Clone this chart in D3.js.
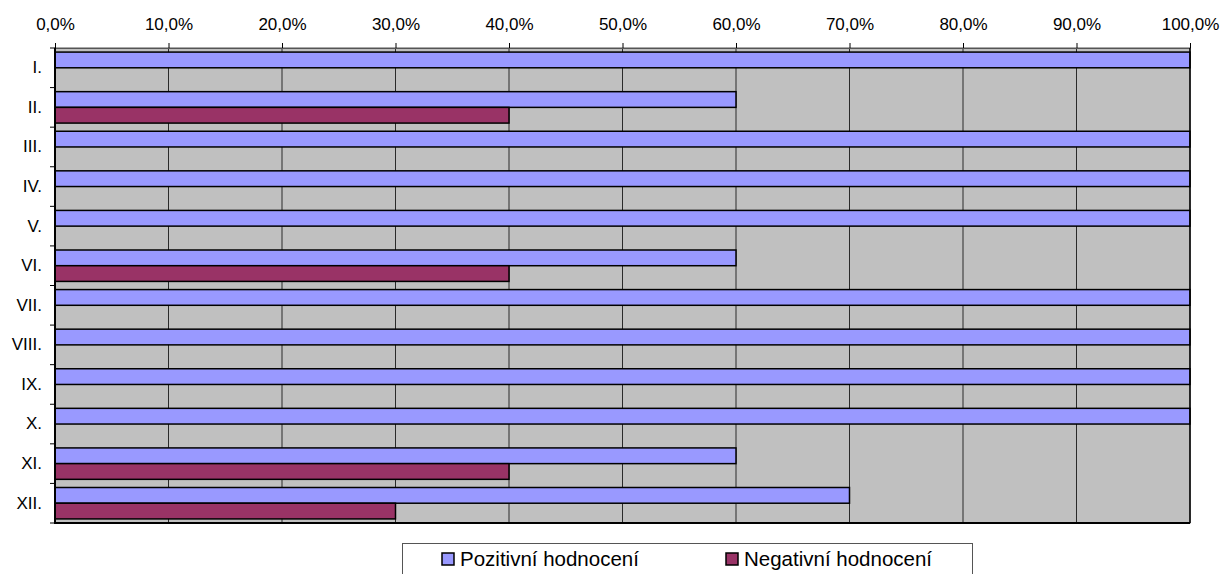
<!DOCTYPE html>
<html>
<head>
<meta charset="utf-8">
<script src="https://cdn.jsdelivr.net/npm/d3@7.9.0/dist/d3.min.js"></script>
<style>
  body { margin: 0; background: #fff; }
  svg { display: block; font-family: Arial, "Liberation Sans", sans-serif; }
</style>
</head>
<body>
<svg id="chart" width="1220" height="574"></svg>
<script>
// data
const categories = ['I.', 'II.', 'III.', 'IV.', 'V.', 'VI.', 'VII.', 'VIII.', 'IX.', 'X.', 'XI.', 'XII.'];
const positive = [1, 0.6, 1, 1, 1, 0.6, 1, 1, 1, 1, 0.6, 0.7];
const negative = [0, 0.4, 0, 0, 0, 0.4, 0, 0, 0, 0, 0.4, 0.3];
const seriesNames = ['Pozitivní hodnocení', 'Negativní hodnocení'];
const seriesColors = ['#9999ff', '#993366'];
const xTicks = [0, 0.1, 0.2, 0.3, 0.4, 0.5, 0.6, 0.7, 0.8, 0.9, 1];

const svg = d3.select('#chart');
const plotL = 55, plotR = 1190, plotT = 48, plotB = 523;
const fontFam = 'Arial, "Liberation Sans", sans-serif';

const x = d3.scaleLinear().domain([0, 1]).range([plotL, plotR]);
const y = d3.scaleBand().domain(categories).range([plotT, plotB]).padding(0);
const ySub = d3.scaleBand().domain([0, 1]).range([0, y.bandwidth()]).paddingInner(0).paddingOuter(0.26);

const fmt = v => d3.format('.1f')(v * 100).replace('.', ',') + '%';

// plot background
svg.append('rect')
  .attr('x', plotL).attr('y', plotT)
  .attr('width', plotR - plotL).attr('height', plotB - plotT)
  .attr('fill', '#c0c0c0')
  .attr('stroke', '#555').attr('stroke-width', 1);

// vertical grid
svg.append('g')
  .selectAll('line')
  .data(xTicks.slice(1, -1))
  .join('line')
  .attr('x1', d => x(d)).attr('x2', d => x(d))
  .attr('y1', plotT).attr('y2', plotB)
  .attr('stroke', '#2a2a2a').attr('stroke-width', 1);

// bars
const rows = categories.map((c, i) => ({ cat: c, vals: [positive[i], negative[i]] }));
const groups = svg.append('g')
  .selectAll('g')
  .data(rows)
  .join('g')
  .attr('transform', d => `translate(0,${y(d.cat)})`);

groups.selectAll('rect')
  .data(d => d.vals.map((v, k) => ({ v, k })).filter(e => e.v > 0))
  .join('rect')
  .attr('x', x(0))
  .attr('y', d => ySub(d.k))
  .attr('width', d => x(d.v) - x(0))
  .attr('height', ySub.bandwidth())
  .attr('fill', d => seriesColors[d.k])
  .attr('stroke', '#000').attr('stroke-width', 1.5);

// top axis
const xAxis = d3.axisTop(x)
  .tickValues(xTicks)
  .tickFormat(fmt)
  .tickSize(5)
  .tickPadding(13);
const gx = svg.append('g').attr('transform', `translate(0,${plotT})`).call(xAxis);
gx.attr('font-size', 17).attr('font-family', fontFam);
gx.select('.domain').attr('stroke', '#555');
gx.selectAll('.tick line').attr('stroke', '#000');
gx.selectAll('text').attr('fill', '#000');

// left axis
const yAxis = d3.axisLeft(y).tickSize(0).tickPadding(13);
const gy = svg.append('g').attr('transform', `translate(${plotL},0)`).call(yAxis);
gy.attr('font-size', 17).attr('font-family', fontFam);
gy.select('.domain').remove();
gy.selectAll('text').attr('fill', '#000');

// category boundary ticks
svg.append('g')
  .selectAll('line')
  .data(categories.map(c => y(c)).concat([plotB]))
  .join('line')
  .attr('x1', plotL - 5).attr('x2', plotL)
  .attr('y1', d => d).attr('y2', d => d)
  .attr('stroke', '#000').attr('stroke-width', 1);

// axis lines
svg.append('line').attr('x1', plotL).attr('x2', plotL).attr('y1', plotT).attr('y2', plotB + 1)
  .attr('stroke', '#000').attr('stroke-width', 2);
svg.append('line').attr('x1', plotL).attr('x2', plotR).attr('y1', plotB).attr('y2', plotB)
  .attr('stroke', '#000').attr('stroke-width', 2);
svg.append('line').attr('x1', plotR).attr('x2', plotR).attr('y1', plotT).attr('y2', plotB)
  .attr('stroke', '#000').attr('stroke-width', 1.5);

// legend
const legend = svg.append('g').attr('font-family', fontFam);
legend.append('rect')
  .attr('x', 402.5).attr('y', 543.5)
  .attr('width', 570).attr('height', 40)
  .attr('fill', '#fff').attr('stroke', '#555').attr('stroke-width', 1);

const legendX = [442, 726];
const items = legend.selectAll('g.item')
  .data(seriesNames)
  .join('g')
  .attr('class', 'item')
  .attr('transform', (d, i) => `translate(${legendX[i]},553)`);
items.append('rect')
  .attr('width', 12).attr('height', 12)
  .attr('fill', (d, i) => seriesColors[i])
  .attr('stroke', '#000').attr('stroke-width', 1.5);
items.append('text')
  .attr('x', 18).attr('y', 13)
  .attr('font-size', 20.5)
  .text(d => d);
</script>
</body>
</html>
